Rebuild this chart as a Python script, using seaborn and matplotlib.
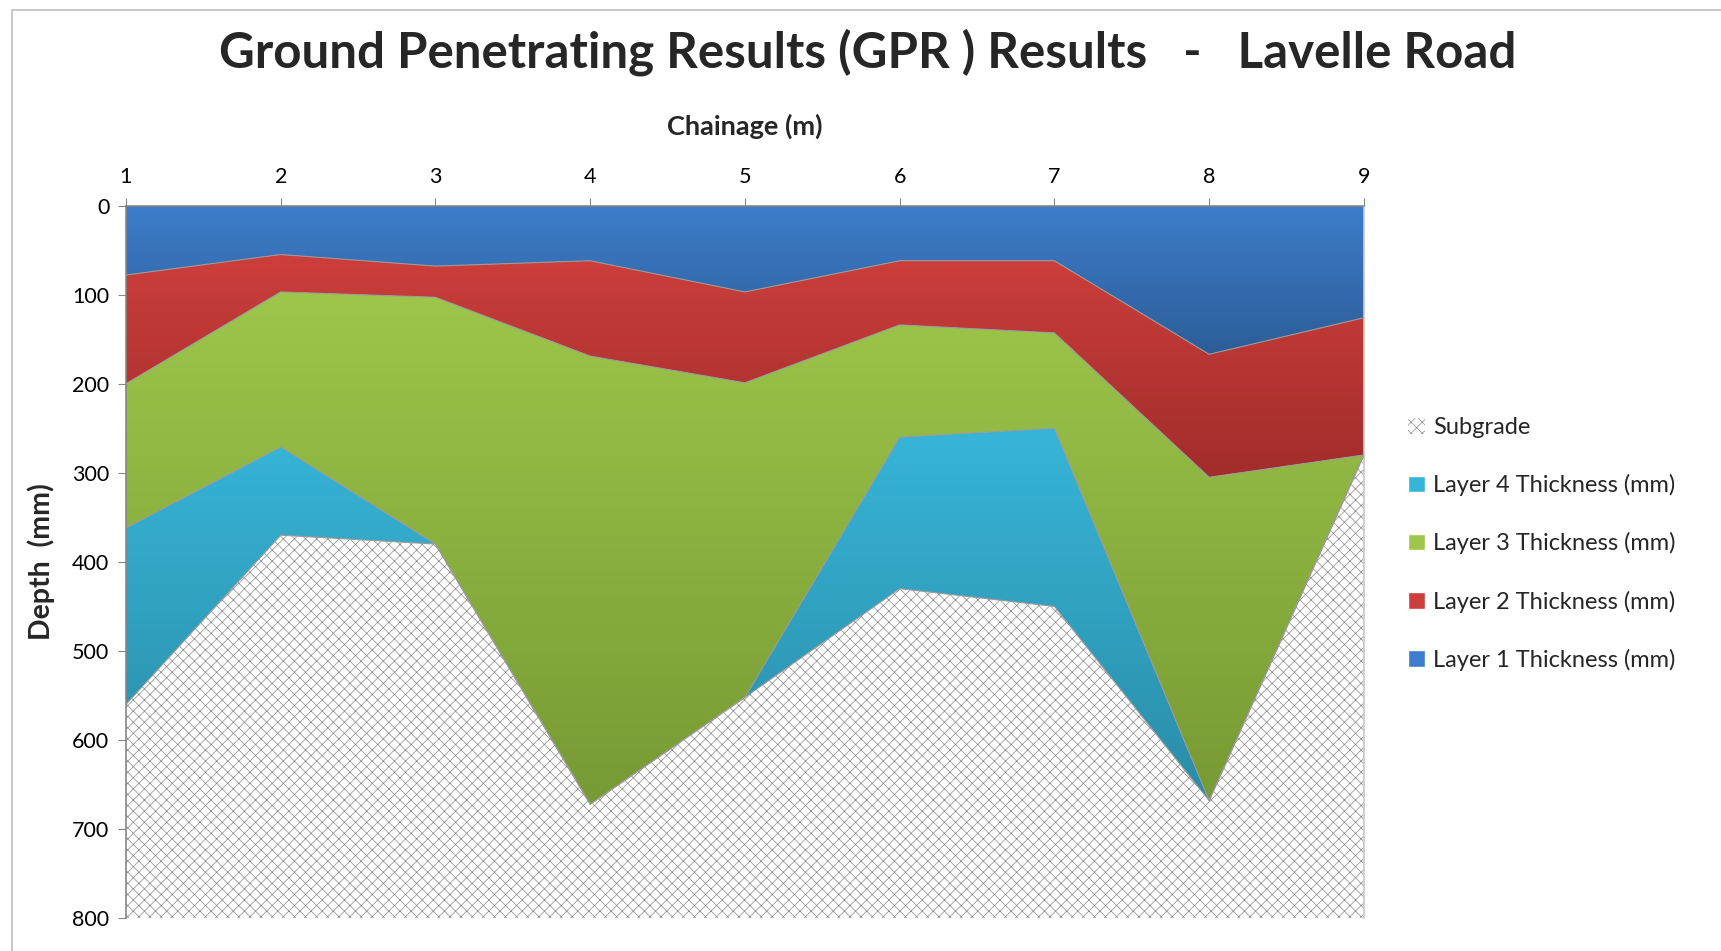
import numpy as np
import pandas as pd
import matplotlib.pyplot as plt
import seaborn as sns
from matplotlib.colors import LinearSegmentedColormap
from matplotlib.patches import Patch, Rectangle

# Data (thickness of each layer, mm)
chainage = [1, 2, 3, 4, 5, 6, 7, 8, 9]
layer1 = [78, 55, 68, 62, 97, 62, 62, 167, 126]
layer2 = [122, 42, 35, 107, 102, 72, 81, 138, 154]
layer3 = [162, 174, 277, 503, 353, 126, 107, 363, 0]
layer4 = [198, 99, 0, 0, 0, 170, 200, 0, 0]
subgrade = [240, 430, 420, 128, 248, 370, 350, 132, 520]

layer_names = ['Layer 1 Thickness (mm)', 'Layer 2 Thickness (mm)',
               'Layer 3 Thickness (mm)', 'Layer 4 Thickness (mm)']
# gradient colours (top, bottom) per layer, like the Excel fill
layer_colors = [('#3d7dcb', '#2d5d98'), ('#cc3e3b', '#a12d2b'),
                ('#9dc64b', '#779a33'), ('#37b5d8', '#2a8ca7')]

df = pd.DataFrame({'Chainage': chainage, 'L1': layer1, 'L2': layer2,
                   'L3': layer3, 'L4': layer4, 'Subgrade': subgrade})
cum = df[['L1', 'L2', 'L3', 'L4', 'Subgrade']].cumsum(axis=1)

sns.set_style('white')
plt.rcParams['font.family'] = ['Lato', 'DejaVu Sans']
plt.rcParams['hatch.linewidth'] = 0.5
plt.rcParams['hatch.color'] = '#8a8a8a'

fig = plt.figure(figsize=(17.21, 9.51), dpi=100)
ax = fig.add_axes([0.0732, 0.0344, 0.7193, 0.7495])

x = df['Chainage'].values
tops = [np.zeros(len(x)), cum['L1'].values, cum['L2'].values, cum['L3'].values]
bottoms = [cum['L1'].values, cum['L2'].values, cum['L3'].values, cum['L4'].values]

# Subgrade with crosshatch
ax.fill_between(x, cum['L4'].values, cum['Subgrade'].values, facecolor='white',
                edgecolor='#8a8a8a', hatch='xxx', linewidth=0, zorder=1)

# Layers with vertical gradient fills
for top, bot, (c1, c2) in zip(tops, bottoms, layer_colors):
    poly = ax.fill_between(x, top, bot, facecolor='none', linewidth=0, zorder=2)
    cmap = LinearSegmentedColormap.from_list('g', [c1, c2])
    grad = np.linspace(0, 1, 256).reshape(-1, 1)
    im = ax.imshow(grad, cmap=cmap, aspect='auto', origin='upper',
                   extent=(x.min(), x.max(), bot.max(), top.min()), zorder=2)
    im.set_clip_path(poly.get_paths()[0], transform=ax.transData)

# thin edge lines between layers
for b in bottoms:
    sns.lineplot(x=x, y=b, ax=ax, color='#9a9a9a', linewidth=0.8, zorder=3)

ax.set_xlim(1, 9)
ax.set_ylim(800, 0)
ax.set_xticks(chainage)
ax.set_yticks(range(0, 801, 100))
ax.xaxis.tick_top()
ax.xaxis.set_label_position('top')
ax.tick_params(axis='both', labelsize=15.5, colors='#000000', length=6,
               direction='out', color='#868686')
ax.tick_params(axis='x', bottom=False, top=True, pad=7)
ax.tick_params(axis='y', left=True, pad=6)
for s in ['top', 'left', 'right']:
    ax.spines[s].set_color('#868686')
    ax.spines[s].set_linewidth(1.2)
ax.spines['right'].set_color('#c8c8c8')
ax.spines['bottom'].set_visible(False)

ax.set_xlabel('Chainage (m)', fontsize=19.5, fontweight='bold', labelpad=23.5)
ax.set_ylabel('Depth  (mm)', fontsize=20.5, fontweight='bold', labelpad=12)

fig.suptitle('Ground Penetrating Results (GPR ) Results   -   Lavelle Road',
             x=0.504, y=0.945, va='center', fontsize=35.5, fontweight='bold')

handles = [Patch(facecolor='white', edgecolor='#8a8a8a', hatch='xxx', linewidth=0,
                 label='Subgrade')]
for name, (c1, c2) in zip(layer_names[::-1], layer_colors[::-1]):
    handles.append(Patch(facecolor=c1, label=name))
fig.legend(handles=handles, loc='center left', bbox_to_anchor=(0.806, 0.428),
           frameon=False, fontsize=17, handlelength=0.7, handleheight=0.7,
           handletextpad=0.35, labelspacing=1.53)

# chart area border
fig.patches.append(Rectangle((0.007, -0.01), 1.1, 1.0, transform=fig.transFigure,
                             fill=False, edgecolor='#c0c0c0', linewidth=1.2))

fig.savefig('out.png', dpi=100)
